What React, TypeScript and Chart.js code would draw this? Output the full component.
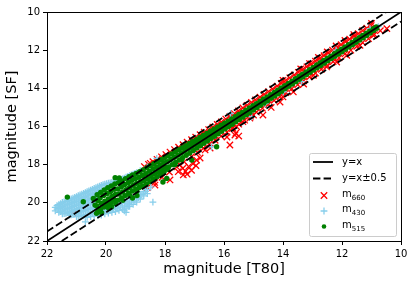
import React, { useEffect, useRef } from 'react';
import { Chart, registerables } from 'chart.js';

Chart.register(...registerables);

// ---- reference lines (x = T80 magnitude, y = SF magnitude) ----
const lineX = [22, 10];
const lineY = [22, 10];
const upperX = [22, 10.5];
const upperY = [21.5, 10];
const lowerX = [21.5, 10];
const lowerY = [22, 10.5];

const xTickValues = [22, 20, 18, 16, 14, 12, 10];
const yTickValues = [10, 12, 14, 16, 18, 20, 22];

// ---- m660 (red x) ----
const m660: number[][] = [
  [18.70,18.10],[18.56,17.98],[18.41,17.84],[18.27,17.72],[18.12,17.59],[17.97,17.47],[17.83,17.34],[17.68,17.21],
  [17.54,17.08],[17.39,16.95],[17.25,16.82],[17.10,16.69],[16.96,16.56],[16.81,16.43],[16.67,16.30],[16.52,16.16],
  [16.38,16.03],[16.23,15.89],[16.09,15.76],[15.94,15.61],[15.80,15.47],[15.65,15.32],[15.51,15.18],[15.36,15.03],
  [15.22,14.89],[15.07,14.74],[14.93,14.60],[14.78,14.46],[14.64,14.32],[14.49,14.17],[14.35,14.03],[14.20,13.88],
  [14.06,13.74],[13.91,13.59],[13.77,13.45],[13.62,13.30],[13.48,13.16],[13.33,13.01],[13.19,12.87],[13.04,12.72],
  [12.90,12.58],[12.75,12.43],[12.61,12.29],[12.46,12.14],[12.32,12.00],[12.17,11.85],[12.03,11.71],[11.88,11.56],
  [11.74,11.42],[11.59,11.27],[11.45,11.13],[11.30,10.98],[11.16,10.85],[11.01,10.71],
  [14.00,13.58],[13.40,12.98],[12.80,12.38],[12.20,11.78],[11.60,11.18],[11.00,10.60],[13.10,12.70],[12.50,12.09],[11.90,11.49],
  [18.60,19.20],[18.35,18.93],[18.10,18.66],[17.85,18.39],[17.60,18.12],[17.35,17.85],[17.10,17.58],[16.90,17.36],
  [16.70,17.14],[16.50,16.93],[16.30,16.72],[16.10,16.51],[15.90,16.30],[15.70,16.09],[15.50,15.88],[15.30,15.67],
  [15.10,15.46],[14.90,15.25],[14.70,15.04],[14.50,14.84],[14.30,14.63],[14.10,14.43],[13.90,14.22],[13.70,14.02],
  [13.50,13.81],[13.30,13.61],[13.10,13.40],[12.90,13.20],[12.70,13.00],[12.50,12.80],[12.30,12.60],[12.10,12.40],
  [11.90,12.20],[11.70,12.00],[11.50,11.80],[11.30,11.60],[11.10,11.40],[10.90,11.18],[10.70,10.98],[10.48,10.87],
  [13.65,14.19],[14.10,14.72],[12.18,12.62],[11.84,12.27],[12.97,13.32],[13.30,13.78],[11.39,11.75],[10.94,11.22],
  [14.40,15.00],[12.52,12.88],
  [15.80,16.97],[15.72,16.10],[15.60,16.35],[15.50,16.50],[15.63,16.45],[15.90,16.55],[14.68,15.40],[14.00,14.45],
  [17.40,18.20],[17.20,18.10],[17.05,17.95],[17.30,18.35],[17.50,18.00],[17.10,18.30],[17.55,18.37],[17.38,18.54],
  [16.93,17.76],[17.83,18.80],[16.64,17.23],[16.47,17.13],[16.81,17.65],[18.34,19.07],[21.10,20.55],[18.50,17.93],
  [15.12,15.56],[15.00,15.40],[15.36,15.75],[15.57,16.01],[17.25,18.50],[16.95,18.05],
];

// ---- m430 (sky-blue +) ----
const m430: number[][] = [
  [21.72,20.24],[21.72,20.42],
  [21.60,20.10],[21.60,20.30],[21.60,20.50],
  [21.48,19.98],[21.48,20.20],[21.48,20.42],[21.48,20.58],
  [21.36,19.92],[21.36,20.12],[21.36,20.33],[21.36,20.55],
  [21.24,19.84],[21.24,20.05],[21.24,20.26],[21.24,20.47],[21.24,20.64],
  [21.12,19.76],[21.12,19.97],[21.12,20.18],[21.12,20.40],[21.12,20.62],
  [21.00,19.68],[21.00,19.90],[21.00,20.12],[21.00,20.34],[21.00,20.56],[21.00,20.72],
  [20.88,19.58],[20.88,19.80],[20.88,20.02],[20.88,20.25],[20.88,20.48],[20.88,20.70],
  [20.76,19.50],[20.76,19.72],[20.76,19.95],[20.76,20.18],[20.76,20.42],[20.76,20.66],
  [20.64,19.42],[20.64,19.64],[20.64,19.88],[20.64,20.12],[20.64,20.36],[20.64,20.62],[20.64,20.76],
  [20.52,19.34],[20.52,19.56],[20.52,19.80],[20.52,20.04],[20.52,20.30],[20.52,20.56],[20.52,20.72],
  [20.40,19.25],[20.40,19.48],[20.40,19.72],[20.40,19.98],[20.40,20.24],[20.40,20.50],[20.40,20.70],
  [20.28,19.16],[20.28,19.40],[20.28,20.40],[20.28,20.66],
  [20.16,19.08],[20.16,19.30],[20.16,20.38],[20.16,20.64],
  [20.04,19.02],[20.04,19.24],[20.04,20.34],[20.04,20.58],
  [19.92,18.97],[19.92,20.28],[19.92,20.54],
  [19.80,18.93],[19.80,20.24],[19.80,20.50],
  [19.68,18.88],[19.68,20.18],[19.68,20.46],
  [19.56,18.82],[19.56,20.10],[19.56,20.40],
  [19.44,18.74],[19.44,20.02],[19.44,20.34],
  [19.32,18.66],[19.32,19.95],[19.32,20.28],[19.32,20.50],
  [19.20,18.58],[19.20,19.86],[19.20,20.18],
  [19.08,18.50],[19.08,19.75],[19.08,20.08],
  [18.96,18.42],[18.96,19.66],[18.96,19.96],
  [18.84,18.32],[18.84,19.55],[18.84,19.80],
  [18.72,19.42],[18.72,19.64],
  [18.60,18.12],[18.60,19.30],[18.60,19.52],
  [18.48,19.18],
  [21.66,20.33],[21.66,20.15],
  [21.54,20.04],[21.54,20.25],[21.54,20.46],
  [21.42,19.95],[21.42,20.16],[21.42,20.37],[21.42,20.56],
  [21.30,19.88],[21.30,20.08],[21.30,20.30],[21.30,20.51],
  [21.18,19.80],[21.18,20.01],[21.18,20.22],[21.18,20.44],[21.18,20.63],
  [21.06,19.72],[21.06,19.94],[21.06,20.15],[21.06,20.37],[21.06,20.59],
  [20.94,19.62],[20.94,19.85],[20.94,20.07],[20.94,20.30],[20.94,20.52],[20.94,20.71],
  [20.82,19.54],[20.82,19.76],[20.82,19.99],[20.82,20.21],[20.82,20.45],[20.82,20.68],
  [20.70,19.46],[20.70,19.68],[20.70,19.92],[20.70,20.15],[20.70,20.39],[20.70,20.64],
  [20.58,19.38],[20.58,19.60],[20.58,19.84],[20.58,20.08],[20.58,20.33],[20.58,20.59],
  [20.46,19.30],[20.46,19.52],[20.46,19.76],[20.46,20.01],[20.46,20.27],[20.46,20.53],
  [20.34,19.20],[20.34,19.44],[20.34,20.52],[20.22,19.12],[20.22,19.36],[20.22,20.50],
  [20.10,19.05],[20.10,20.46],[19.98,18.99],[19.98,20.42],[19.86,18.95],[19.86,20.38],
  [19.74,18.90],[19.74,20.33],[19.62,18.85],[19.62,20.28],[19.50,18.78],[19.50,20.22],
  [19.38,18.70],[19.38,20.16],[19.38,20.42],[19.26,18.62],[19.26,20.06],[19.14,18.54],[19.14,19.96],
  [19.02,18.46],[19.02,19.90],[18.90,19.72],[18.78,19.55],[18.66,19.40],
  [18.41,19.96],[19.25,20.20],[20.70,21.00],[18.28,17.67],[16.42,17.06],[15.78,15.32],[15.06,15.49],
  [13.37,13.65],[13.99,14.18],[10.77,10.77],[15.12,15.14],[11.05,10.87],[12.20,12.00],[14.60,14.80],
  [16.90,16.70],[17.70,17.40],
];

// ---- m515 (green dots) ----
const m515: number[][] = [
  [20.30,19.58],[20.28,19.88],[20.31,20.16],[20.27,20.43],
  [20.18,19.45],[20.20,19.75],[20.16,20.03],[20.19,20.35],[20.15,20.52],
  [20.06,19.33],[20.08,19.61],[20.04,19.92],[20.07,20.22],
  [19.94,19.21],[19.96,19.51],[19.92,19.79],[19.95,20.09],[19.91,20.28],
  [19.82,19.12],[19.84,19.40],[19.80,19.67],[19.83,19.98],
  [19.70,19.01],[19.72,19.29],[19.68,19.56],[19.71,19.86],[19.67,20.04],
  [19.58,18.95],[19.60,19.27],[19.56,19.54],[19.59,19.86],
  [19.46,18.85],[19.48,19.16],[19.44,19.43],[19.47,19.74],[19.43,19.87],
  [19.34,18.73],[19.36,19.04],[19.32,19.31],[19.35,19.62],
  [19.22,18.63],[19.24,18.93],[19.20,19.19],[19.23,19.50],[19.19,19.62],
  [19.10,18.54],[19.12,18.82],[19.08,19.08],[19.11,19.38],
  [18.98,18.46],[19.00,18.73],[18.96,18.98],[18.99,19.27],[18.95,19.39],
  [18.86,18.37],[18.88,18.66],[18.84,18.92],[18.87,19.19],
  [18.74,18.28],[18.76,18.57],[18.72,18.85],[18.75,19.13],
  [18.62,18.17],[18.64,18.47],[18.60,18.73],[18.63,19.01],
  [18.50,18.06],[18.52,18.35],[18.48,18.61],[18.51,18.89],
  [18.38,17.95],[18.40,18.23],[18.36,18.49],[18.39,18.76],
  [18.26,17.84],[18.28,18.12],[18.24,18.37],[18.27,18.63],
  [18.14,17.74],[18.16,18.01],[18.12,18.25],[18.15,18.50],
  [18.02,17.64],[18.04,17.90],[18.00,18.13],[18.03,18.37],
  [17.90,17.55],[17.92,17.84],[17.88,18.12],[17.91,18.24],
  [17.78,17.44],[17.80,17.73],[17.76,18.00],
  [17.66,17.33],[17.68,17.61],[17.64,17.88],[17.67,18.00],
  [17.54,17.22],[17.56,17.50],[17.52,17.76],
  [17.42,17.11],[17.44,17.38],[17.40,17.63],[17.43,17.74],
  [17.30,17.00],[17.32,17.26],[17.28,17.51],
  [17.18,16.89],[17.20,17.15],[17.16,17.39],
  [17.06,16.78],[17.08,17.03],[17.04,17.26],
  [16.94,16.69],[16.96,16.92],[16.92,17.13],
  [16.82,16.58],[16.84,16.81],[16.80,17.01],
  [16.70,16.47],[16.72,16.69],[16.68,16.88],
  [16.58,16.36],[16.60,16.57],[16.56,16.76],
  [16.46,16.25],[16.48,16.45],[16.44,16.63],
  [16.34,16.14],[16.36,16.34],[16.32,16.51],
  [16.22,16.04],[16.24,16.22],[16.20,16.38],
  [16.10,15.93],[16.12,16.10],[16.08,16.25],
  [15.98,15.83],[16.00,15.99],[15.96,16.12],
  [15.86,15.72],[15.88,15.88],[15.84,16.00],
  [15.74,15.60],[15.76,15.76],[15.72,15.88],
  [15.62,15.49],[15.64,15.64],[15.60,15.75],
  [15.50,15.37],[15.52,15.52],[15.48,15.63],
  [15.38,15.26],[15.40,15.40],[15.36,15.51],
  [15.26,15.14],[15.28,15.28],[15.24,15.38],
  [15.14,15.03],[15.16,15.16],[15.12,15.26],
  [15.02,14.91],[15.04,15.04],[15.00,15.14],
  [14.90,14.80],[14.92,14.92],[14.88,15.01],
  [14.78,14.68],[14.76,14.89],[14.66,14.56],[14.64,14.77],
  [14.54,14.45],[14.52,14.65],[14.42,14.33],[14.40,14.52],
  [14.30,14.21],[14.28,14.40],[14.18,14.10],[14.16,14.28],
  [14.06,13.98],[14.04,14.15],
  [13.94,13.86],[13.92,14.01],[13.82,13.74],[13.80,13.89],
  [13.70,13.62],[13.68,13.77],[13.58,13.50],[13.56,13.65],
  [13.46,13.38],[13.44,13.53],[13.34,13.26],[13.32,13.40],
  [13.22,13.14],[13.20,13.28],[13.10,13.02],[13.08,13.16],
  [12.98,12.90],[12.96,13.04],[12.86,12.78],[12.84,12.92],
  [12.74,12.66],[12.72,12.80],[12.62,12.54],[12.60,12.68],
  [12.50,12.42],[12.48,12.56],[12.38,12.31],[12.36,12.44],
  [12.26,12.19],[12.24,12.32],[12.14,12.07],[12.12,12.20],
  [12.02,11.95],[12.00,12.08],[11.90,11.83],[11.88,11.95],
  [11.78,11.71],[11.76,11.83],[11.66,11.59],[11.64,11.71],
  [11.54,11.47],[11.52,11.59],[11.42,11.35],[11.40,11.47],
  [11.30,11.23],[11.28,11.35],[11.18,11.11],[11.16,11.23],
  [11.06,11.00],[11.04,11.10],[10.94,10.88],[10.92,10.97],
  [10.84,10.78],[10.82,10.85],
  [21.31,19.70],[20.77,19.94],[19.69,18.68],[20.43,19.77],[20.37,20.12],[20.32,20.55],[19.81,20.20],
  [19.10,19.75],[18.95,19.62],[18.07,18.91],[17.94,18.72],[17.09,17.76],[16.25,17.06],[19.55,18.70],
];

const legendLabels = ['y=x', 'y=x±0.5'];
const seriesBase = ['m', 'm', 'm'];
const seriesSub = ['660', '430', '515'];

const RED = '#ff0000';
const BLUE = '#87ceeb';
const GREEN = '#008000';
const FONT = "'DejaVu Sans'";

const toXY = (pts: number[][]) => pts.map(([x, y]) => ({ x, y }));
const zipXY = (xs: number[], ys: number[]) => xs.map((x, i) => ({ x, y: ys[i] }));

const framePlugin = {
  id: 'frameAndLegend',
  afterDraw(chart: any) {
    const { ctx, chartArea: ca } = chart;
    ctx.save();
    ctx.strokeStyle = '#000';
    ctx.lineWidth = 1;
    ctx.strokeRect(Math.round(ca.left) + 0.5, Math.round(ca.top) + 0.5, Math.round(ca.right - ca.left), Math.round(ca.bottom - ca.top));

    const w = 87, h = 83;
    const x0 = Math.round(ca.right) - 5 - w + 0.5;
    const y0 = Math.round(ca.bottom) - 5 - h + 0.5;
    const r = 2;
    ctx.beginPath();
    ctx.moveTo(x0 + r, y0);
    ctx.arcTo(x0 + w, y0, x0 + w, y0 + h, r);
    ctx.arcTo(x0 + w, y0 + h, x0, y0 + h, r);
    ctx.arcTo(x0, y0 + h, x0, y0, r);
    ctx.arcTo(x0, y0, x0 + w, y0, r);
    ctx.closePath();
    ctx.fillStyle = 'rgba(255,255,255,0.8)';
    ctx.fill();
    ctx.strokeStyle = '#cccccc';
    ctx.stroke();

    const hx0 = x0 + 3.5, hx1 = x0 + 23.5, mx = x0 + 14.5, tx = x0 + 32.5;
    const rows = [y0 + 8.5, y0 + 25, y0 + 42, y0 + 57.5, y0 + 73];

    ctx.fillStyle = '#000';
    ctx.textBaseline = 'middle';
    ctx.textAlign = 'left';

    ctx.strokeStyle = '#000';
    ctx.lineWidth = 1.8;
    ctx.beginPath(); ctx.moveTo(hx0, rows[0]); ctx.lineTo(hx1, rows[0]); ctx.stroke();
    ctx.setLineDash([7.4, 3.2]);
    ctx.beginPath(); ctx.moveTo(hx0, rows[1]); ctx.lineTo(hx1, rows[1]); ctx.stroke();
    ctx.setLineDash([]);
    ctx.font = `10px ${FONT}`;
    ctx.fillText(legendLabels[0], tx, rows[0]);
    ctx.fillText(legendLabels[1], tx, rows[1]);

    ctx.strokeStyle = RED; ctx.lineWidth = 1.3;
    ctx.beginPath();
    ctx.moveTo(mx - 3.2, rows[2] - 3.2); ctx.lineTo(mx + 3.2, rows[2] + 3.2);
    ctx.moveTo(mx + 3.2, rows[2] - 3.2); ctx.lineTo(mx - 3.2, rows[2] + 3.2);
    ctx.stroke();
    ctx.strokeStyle = BLUE;
    ctx.beginPath();
    ctx.moveTo(mx - 3.4, rows[3]); ctx.lineTo(mx + 3.4, rows[3]);
    ctx.moveTo(mx, rows[3] - 3.4); ctx.lineTo(mx, rows[3] + 3.4);
    ctx.stroke();
    ctx.fillStyle = GREEN;
    ctx.beginPath(); ctx.arc(mx, rows[4], 2.3, 0, Math.PI * 2); ctx.fill();

    ctx.fillStyle = '#000';
    for (let i = 0; i < 3; i++) {
      const ry = rows[2 + i];
      ctx.font = `10px ${FONT}`;
      ctx.fillText(seriesBase[i], tx, ry - 1.5);
      const mw = ctx.measureText(seriesBase[i]).width;
      ctx.font = `7px ${FONT}`;
      ctx.fillText(seriesSub[i], tx + mw, ry + 2.6);
    }
    ctx.restore();
  },
};

export default function App() {
  const canvasRef = useRef<HTMLCanvasElement | null>(null);

  useEffect(() => {
    document.body.style.margin = '0';
    const canvas = canvasRef.current;
    if (!canvas) return;
    Chart.defaults.font.family = FONT;
    Chart.defaults.color = '#000';

    const chart = new Chart(canvas, {
      type: 'scatter',
      data: {
        datasets: [
          { label: legendLabels[0], data: zipXY(lineX, lineY), showLine: true, borderColor: '#000', borderWidth: 1.8, pointRadius: 0 },
          { label: legendLabels[1], data: zipXY(upperX, upperY), showLine: true, borderColor: '#000', borderWidth: 1.8, borderDash: [7.4, 3.2], pointRadius: 0 },
          { label: legendLabels[1] + ' (lower)', data: zipXY(lowerX, lowerY), showLine: true, borderColor: '#000', borderWidth: 1.8, borderDash: [7.4, 3.2], pointRadius: 0 },
          { label: 'm515', data: toXY(m515), pointStyle: 'circle', pointRadius: 2.7, backgroundColor: GREEN, borderColor: GREEN, borderWidth: 0 },
          { label: 'm430', data: toXY(m430), pointStyle: 'cross', pointRadius: 3.4, borderColor: BLUE, backgroundColor: BLUE, borderWidth: 1.3 },
          { label: 'm660', data: toXY(m660), pointStyle: 'crossRot', pointRadius: 4.5, borderColor: RED, backgroundColor: RED, borderWidth: 1.3 },
        ] as any,
      },
      options: {
        animation: false,
        responsive: false,
        events: [],
        layout: { padding: { top: 12, right: 14, bottom: 0, left: 0 } },
        plugins: { legend: { display: false }, tooltip: { enabled: false } },
        scales: {
          x: {
            type: 'linear', min: 10, max: 22, reverse: true,
            afterFit: (s: any) => { s.height = 44; },
            afterBuildTicks: (s: any) => { s.ticks = xTickValues.map((v) => ({ value: v })); },
            ticks: { font: { size: 10 }, color: '#000', padding: 3, maxRotation: 0, autoSkip: false },
            grid: { drawOnChartArea: false, drawTicks: true, tickLength: 4, color: '#000', tickColor: '#000', lineWidth: 1 },
            border: { display: false },
            title: { display: true, text: 'magnitude [T80]', font: { size: 14.5 }, color: '#000', padding: { top: 0, bottom: 6.8 } },
          },
          y: {
            type: 'linear', min: 10, max: 22, reverse: true,
            afterFit: (s: any) => { s.width = 47; },
            afterBuildTicks: (s: any) => { s.ticks = yTickValues.map((v) => ({ value: v })); },
            ticks: { font: { size: 10 }, color: '#000', padding: 3, autoSkip: false },
            grid: { drawOnChartArea: false, drawTicks: true, tickLength: 4, color: '#000', tickColor: '#000', lineWidth: 1 },
            border: { display: false },
            title: { display: true, text: 'magnitude [SF]', font: { size: 14.5 }, color: '#000', padding: { top: 3.3, bottom: 0 } },
          },
        },
      } as any,
      plugins: [framePlugin],
    });

    return () => chart.destroy();
  }, []);

  return (
    <div style={{ width: 415, height: 285, position: 'relative' }}>
      <canvas ref={canvasRef} width={415} height={285} style={{ display: 'block', width: 415, height: 285 }} />
    </div>
  );
}
